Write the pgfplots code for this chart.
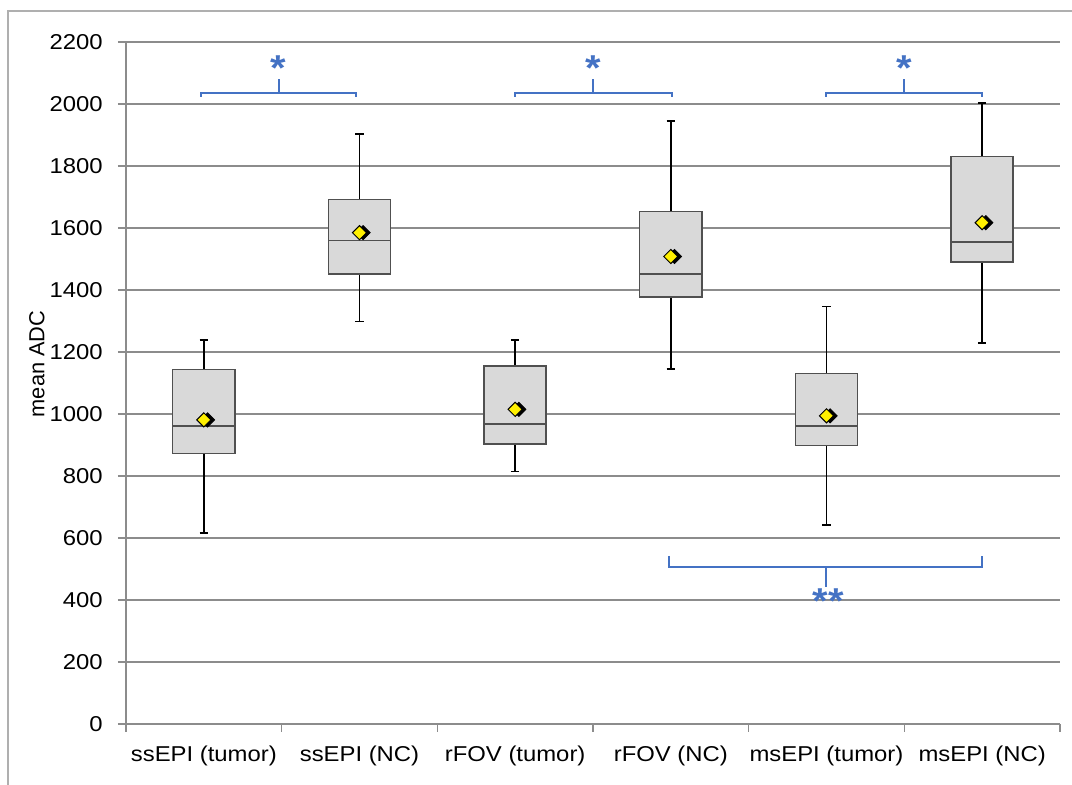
\documentclass[border=0pt]{standalone}
\usepackage{fontspec}
\setmainfont{Liberation Sans}[FakeStretch=1.11]
\newfontfamily\ylabfont{Liberation Sans}
\usepackage{pgfplots}
\usepackage{pgfplotstable}
\pgfplotsset{compat=1.18}

\definecolor{gridgray}{RGB}{140,140,140}
\definecolor{framegray}{RGB}{175,175,175}
\definecolor{boxfill}{RGB}{217,217,217}
\definecolor{boxedge}{RGB}{80,80,80}
\definecolor{meanyellow}{RGB}{255,240,0}
\definecolor{sigblue}{RGB}{68,114,196}

% group means (ADC)
\pgfplotstableread{
pos mean
0 981
1 1585
2 1015
3 1508
4 994
5 1617
}\meantable

% one box: #1 centre, #2 left edge, #3 right edge,
% #4 lower whisker, #5 lower quartile, #6 median, #7 upper quartile, #8 upper whisker
\newcommand\adcbox[8]{%
  \addplot[black, line width=0.85pt] coordinates {(#1,#5) (#1,#4)};
  \addplot[black, line width=0.85pt] coordinates {(#1,#7) (#1,#8)};
  \addplot[black, line width=0.85pt] coordinates {(#1-0.027,#4) (#1+0.027,#4)};
  \addplot[black, line width=0.85pt] coordinates {(#1-0.027,#8) (#1+0.027,#8)};
  \addplot[draw=boxedge, fill=boxfill, line width=0.8pt] coordinates {(#2,#5) (#3,#5) (#3,#7) (#2,#7) (#2,#5)} -- cycle;
  \addplot[boxedge, line width=0.8pt] coordinates {(#2,#6) (#3,#6)};
}

\begin{document}
\begin{tikzpicture}
\path[use as bounding box] (0,0) rectangle (536pt,392.5pt);
\draw[framegray, line width=0.75pt] (4pt,0) -- (4pt,387pt) -- (536pt,387pt);
\begin{axis}[
  at={(63pt,30.5pt)}, anchor=south west,
  scale only axis, width=467pt, height=341pt,
  xmin=-0.5, xmax=5.5, ymin=0, ymax=2200,
  ytick={0,200,...,2200},
  xtick={0,...,5},
  xticklabels={ssEPI (tumor), ssEPI (NC), rFOV (tumor), rFOV (NC), msEPI (tumor), msEPI (NC)},
  minor xtick={-0.5,0.5,...,5.5},
  axis x line*=bottom, axis y line*=left,
  axis line style={gridgray, line width=0.75pt},
  tick align=outside,
  major tick length=4pt, minor tick length=4pt,
  tick style={gridgray, line width=0.75pt},
  major x tick style={draw=none},
  ymajorgrids, grid style={gridgray, line width=0.75pt},
  /pgf/number format/assume math mode=true,
  /pgf/number format/1000 sep={},
  ticklabel style={font=\fontsize{10.75}{12.9}\selectfont},
  yticklabel style={anchor=east, inner sep=0pt, xshift=-7.5pt},
  xticklabel style={anchor=base, inner sep=0pt, yshift=-15pt},
  ylabel={mean ADC},
  ylabel style={font=\ylabfont\fontsize{10.9}{13}\selectfont, at={(axis description cs:-0.0953,0.528)}, anchor=center},
  clip=false,
]
\adcbox{0}{-0.2}{0.2}{617}{873}{962}{1144}{1239}
\adcbox{1}{0.8}{1.2}{1298}{1452}{1560}{1692}{1904}
\adcbox{2}{1.8}{2.2}{814}{903}{967}{1155}{1239}
\adcbox{3}{2.8}{3.2}{1145}{1377}{1451}{1653}{1945}
\adcbox{4}{3.8}{4.2}{642}{898}{962}{1131}{1347}
\adcbox{5}{4.8}{5.2}{1230}{1491}{1555}{1831}{2004}

% mean markers with drop shadow
\addplot[only marks, mark=square*, mark size=2.5pt, mark options={rotate=45, fill=black, draw=black}, every mark/.append style={shift={(1.3pt,-1.3pt)}}] table[x=pos, y=mean] {\meantable};
\addplot[only marks, mark=square*, mark size=2.5pt, mark options={rotate=45, fill=meanyellow, draw=black, line width=0.5pt}] table[x=pos, y=mean] {\meantable};

% significance brackets
\addplot[sigblue, line width=1pt] coordinates {(-0.02,2024) (-0.02,2035) (0.98,2035) (0.98,2024)};
\addplot[sigblue, line width=1pt] coordinates {(0.48,2035) (0.48,2079)};
\addplot[sigblue, line width=1pt] coordinates {(2.0,2024) (2.0,2035) (3.01,2035) (3.01,2024)};
\addplot[sigblue, line width=1pt] coordinates {(2.5,2035) (2.5,2079)};
\addplot[sigblue, line width=1pt] coordinates {(4.0,2024) (4.0,2035) (5.0,2035) (5.0,2024)};
\addplot[sigblue, line width=1pt] coordinates {(4.5,2035) (4.5,2079)};
\addplot[sigblue, line width=1pt] coordinates {(2.99,542) (2.99,507) (5.0,507) (5.0,542)};
\addplot[sigblue, line width=1pt] coordinates {(4.0,507) (4.0,441)};

\node[sigblue, font=\bfseries\fontsize{18}{18}\selectfont, anchor=base, yshift=-9.3pt, inner sep=0pt] at (axis cs:0.48,2136) {*};
\node[sigblue, font=\bfseries\fontsize{18}{18}\selectfont, anchor=base, yshift=-9.3pt, inner sep=0pt] at (axis cs:2.5,2136) {*};
\node[sigblue, font=\bfseries\fontsize{18}{18}\selectfont, anchor=base, yshift=-9.3pt, inner sep=0pt] at (axis cs:4.5,2136) {*};
\node[sigblue, font=\bfseries\fontsize{18}{18}\selectfont, anchor=base, yshift=-9.3pt, inner sep=0pt] at (axis cs:4.01,416) {**};
\end{axis}
\end{tikzpicture}
\end{document}
